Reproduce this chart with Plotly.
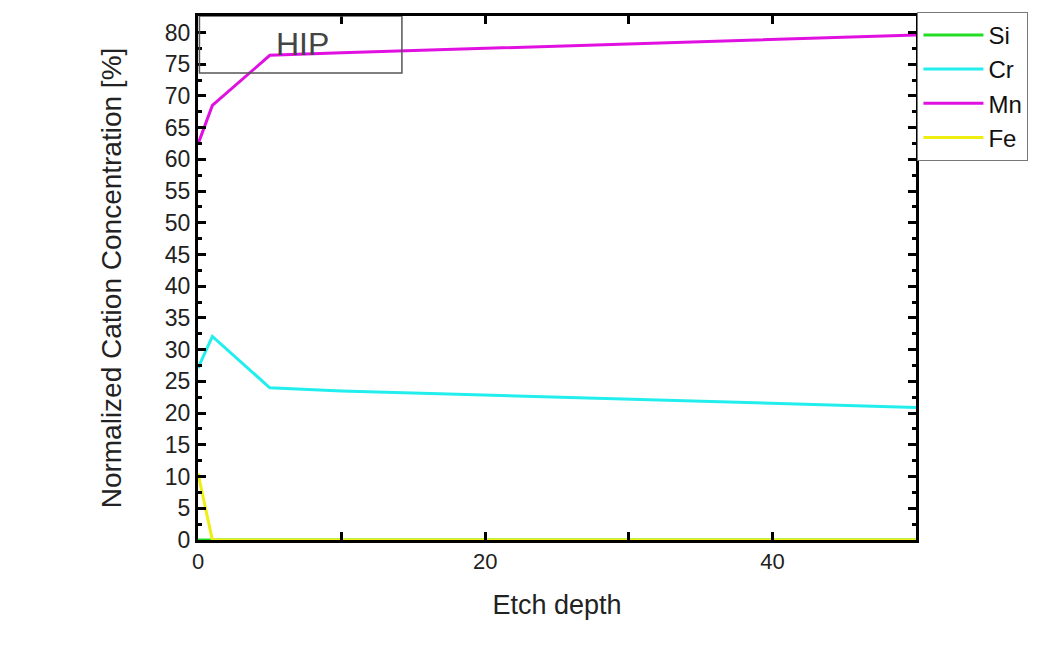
import plotly.graph_objects as go

depth = [0, 1, 5, 10, 50]
si = [0, 0, 0, 0, 0]
cr = [27.1, 32.1, 24.0, 23.5, 20.9]
mn = [62.4, 68.5, 76.4, 76.8, 79.6]
fe = [10.5, 0, 0, 0, 0]

series = [("Si", si, "#22dd22"), ("Cr", cr, "#22eeee"), ("Mn", mn, "#e010e0"), ("Fe", fe, "#eeee11")]

fig = go.Figure()
for name, vals, col in series:
    fig.add_trace(go.Scatter(x=depth, y=vals, mode="lines", name=name,
                             line=dict(color=col, width=3)))

font = "Liberation Sans, Arial, sans-serif"
fig.update_layout(
    width=1057, height=664,
    margin=dict(l=198, r=141, t=12, b=124),
    paper_bgcolor="white", plot_bgcolor="white",
    font=dict(family=font, color="#222"),
    showlegend=True,
    legend=dict(x=1.002, y=1.008, xanchor="left", yanchor="top",
                bordercolor="#777", borderwidth=1, bgcolor="white",
                font=dict(size=24, family=font, color="#111"),
                itemwidth=60, tracegroupgap=0,
                entrywidth=142, entrywidthmode="pixels"),
    xaxis=dict(range=[0, 50], dtick=20, tick0=0, ticks="inside", ticklen=8, tickwidth=3,
               tickcolor="black", showline=True, linecolor="black", linewidth=3,
               mirror="allticks", showgrid=False, zeroline=False,
               tickfont=dict(size=22, family=font, color="#222"),
               minor=dict(dtick=10, tick0=0, ticks="inside", ticklen=8, tickwidth=3, tickcolor="black", showgrid=False),
               title=dict(text="Etch depth", font=dict(size=27, family=font, color="#222"), standoff=22)),
    yaxis=dict(range=[0, 82.6], dtick=5, tick0=0, ticks="inside", ticklen=8, tickwidth=3,
               tickcolor="black", showline=True, linecolor="black", linewidth=3,
               mirror="allticks", showgrid=False, zeroline=False,
               tickfont=dict(size=23, family=font, color="#222"),
               minor=dict(dtick=2.5, tick0=0, ticks="inside", ticklen=4, tickwidth=3, tickcolor="black", showgrid=False),
               title=dict(text="Normalized Cation Concentration [%]", font=dict(size=28, family=font, color="#222"), standoff=36)),
)

fig.add_shape(type="rect", xref="x", yref="y", x0=0.1, x1=14.2, y0=73.6, y1=82.6,
              line=dict(color="#555", width=1.5), layer="above")
fig.add_annotation(x=7.3, y=78.2, xref="x", yref="y", text="HIP", showarrow=False,
                   font=dict(size=32, family=font, color="#444"))

fig.write_html("out.html")
